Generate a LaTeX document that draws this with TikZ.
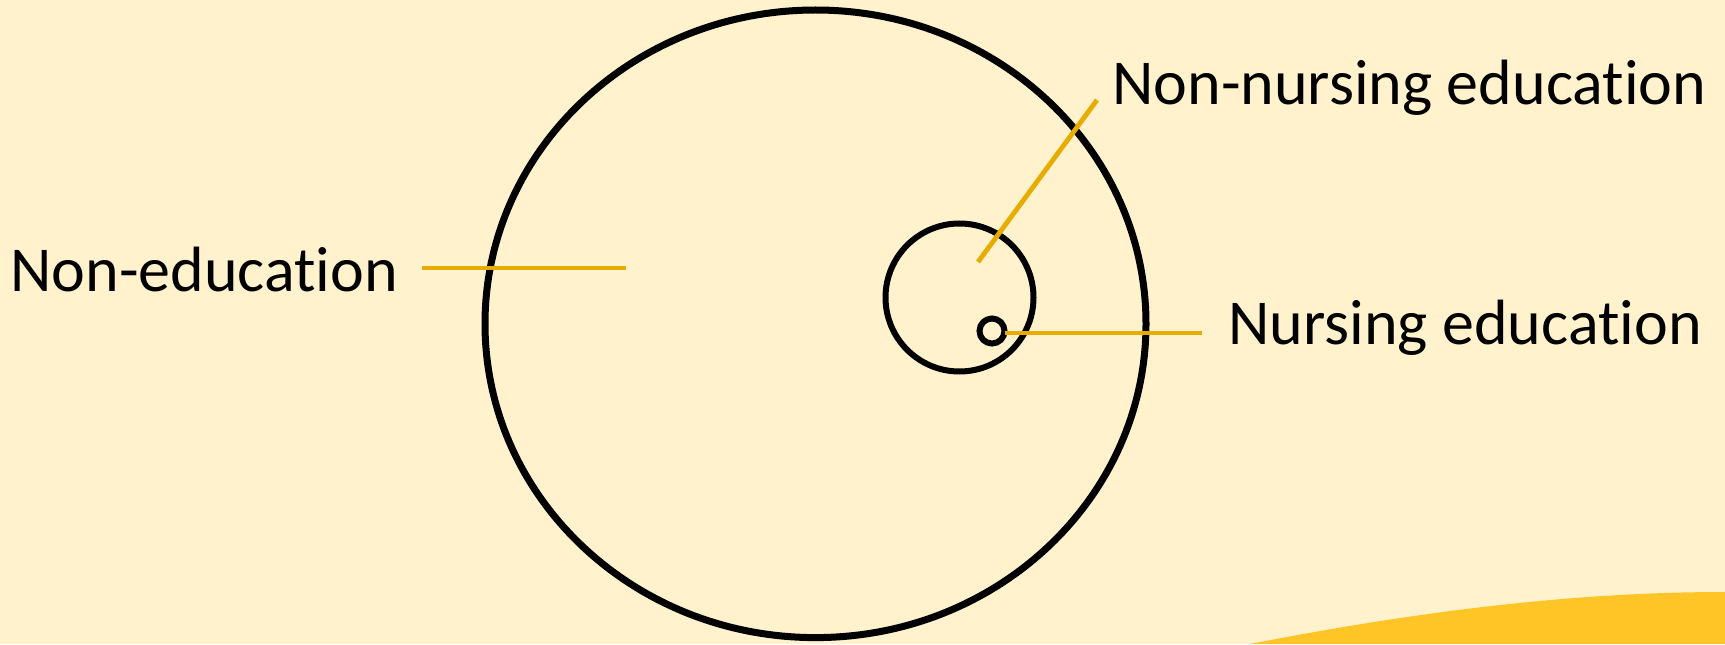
\documentclass[tikz,border=0pt]{standalone}
\usepackage{fontspec}
\setmainfont{Carlito}[Ligatures=NoCommon]
\usepackage{xcolor}
\usepackage{tikz}
\usetikzlibrary{
    shapes.geometric,
    positioning,
    calc
}
\definecolor{paper}{RGB}{255,242,204}
\definecolor{sun}{RGB}{255,196,37}
\definecolor{leader}{RGB}{230,172,0}

\begin{document}
\begin{tikzpicture}[
            x=0.5pt, y=0.5pt,
            ring/.style={draw=black, line width=3.5pt, inner sep=0pt, outer sep=0pt},
            lbl/.style={font=\fontsize{32}{38}\selectfont, anchor=base west, inner sep=0pt},
            lead/.style={draw=leader, line width=2.4pt},
        ]
            % ====== Background ======
            \useasboundingbox (0,0) rectangle (1725,644);
            \fill[paper] (0,0) rectangle (1725,644);
            \fill[sun] (1250,0) .. controls (1450,39) and (1600,52) .. (1725,52)
                -- (1725,0) -- cycle;

            % ====== Nested sets ======
            \node[ring, ellipse, minimum width=330.5pt, minimum height=313.8pt]
                (outer) at (815.5,320.2) {};
            \node[ring, circle, line width=3pt, minimum size=74pt]
                (middle) at (959.5,346.5) {};
            \node[ring, circle, line width=3pt, minimum size=12.5pt]
                (inner) at (992,313) {};

            % ====== Labels ======
            \node[lbl] (noned) at (10,353) {Non-education};
            \node[lbl] (nonnurs) at (1112,539) {Non-nursing education};
            \node[lbl] (nurs) at (1228,300) {Nursing education};

            % ====== Leader lines ======
            \coordinate (noned-a) at (422,376);
            \coordinate (noned-b) at (626,376);
            \coordinate (nonnurs-a) at (1097,544);
            \coordinate (nonnurs-b) at (978,382);
            \coordinate (nurs-b) at (1202,311);

            \draw[lead] (noned-a) -- (noned-b);
            \draw[lead] (nonnurs-a) -- (nonnurs-b);
            \draw[lead] (inner.east |- nurs-b) -- (nurs-b);
        \end{tikzpicture}
\end{document}
